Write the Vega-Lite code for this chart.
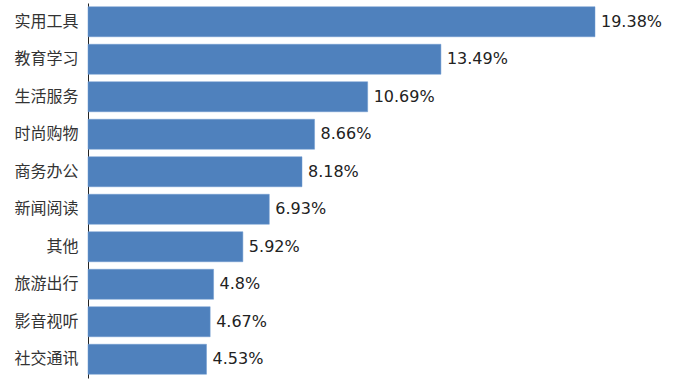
{
  "$schema": "https://vega.github.io/schema/vega-lite/v6.json",
  "autosize": "none",
  "width": 507,
  "height": 375,
  "padding": {"left": 88, "top": 3, "right": 98, "bottom": 13},
  "background": "white",
  "config": {"view": {"stroke": null}},
  "data": {"values": [
    {"category": "实用工具", "value": 19.38, "label": "19.38%"},
    {"category": "教育学习", "value": 13.49, "label": "13.49%"},
    {"category": "生活服务", "value": 10.69, "label": "10.69%"},
    {"category": "时尚购物", "value": 8.66, "label": "8.66%"},
    {"category": "商务办公", "value": 8.18, "label": "8.18%"},
    {"category": "新闻阅读", "value": 6.93, "label": "6.93%"},
    {"category": "其他", "value": 5.92, "label": "5.92%"},
    {"category": "旅游出行", "value": 4.8, "label": "4.8%"},
    {"category": "影音视听", "value": 4.67, "label": "4.67%"},
    {"category": "社交通讯", "value": 4.53, "label": "4.53%"}
  ]},
  "encoding": {
    "y": {
      "field": "category", "type": "nominal", "sort": null,
      "scale": {"paddingInner": 0.2, "paddingOuter": 0.1},
      "axis": {"title": null, "ticks": false, "domainColor": "#222", "domainWidth": 1, "labelFont": "Noto Sans CJK SC", "labelFontSize": 16, "labelColor": "#333", "labelPadding": 10}
    },
    "x": {
      "field": "value", "type": "quantitative",
      "scale": {"domain": [0, 19.38], "nice": false, "zero": true},
      "axis": null
    }
  },
  "layer": [
    {"mark": {"type": "bar", "color": "#4F81BD", "stroke": "#6f9bd0", "strokeWidth": 0.5}},
    {"mark": {"type": "text", "align": "left", "baseline": "middle", "dx": 6, "font": "DejaVu Sans", "fontSize": 16, "color": "#222"},
     "encoding": {"text": {"field": "label"}}}
  ]
}
